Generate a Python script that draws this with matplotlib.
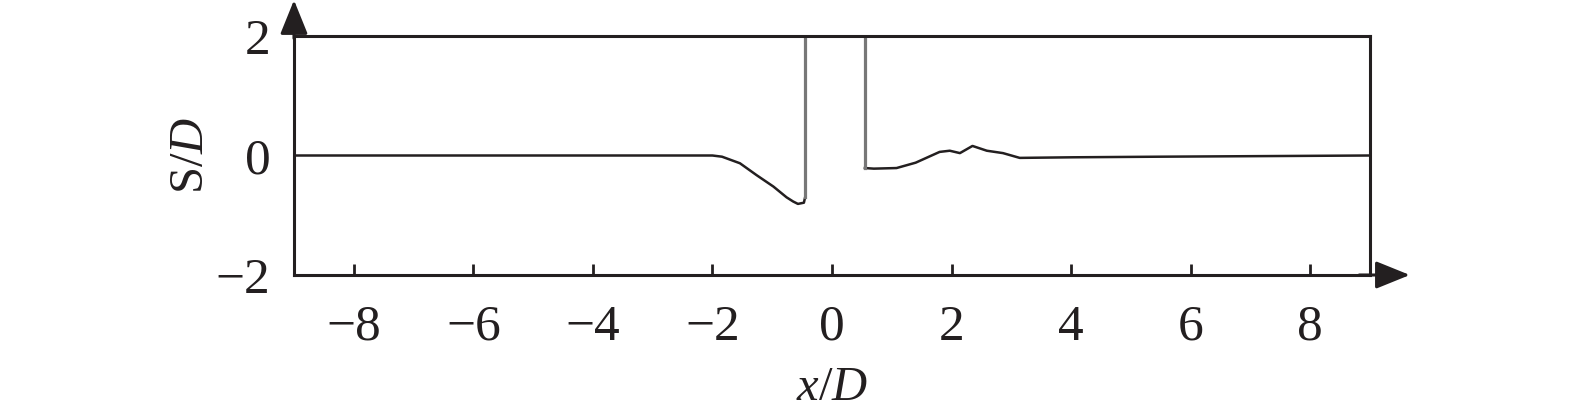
import matplotlib.pyplot as plt
import numpy as np

plt.rcParams['font.family'] = ['Liberation Serif', 'DejaVu Serif']
plt.rcParams['mathtext.fontset'] = 'custom'
plt.rcParams['mathtext.rm'] = 'Liberation Serif'
plt.rcParams['mathtext.it'] = 'Liberation Serif:italic'

# upstream side of the scour profile (x/D, S/D)
x_up = [-9.0, -2.0, -1.84, -1.54, -1.26, -0.98, -0.76, -0.65, -0.57, -0.47, -0.45]
s_up = [0.0, 0.0, -0.02, -0.13, -0.33, -0.52, -0.70, -0.77, -0.81, -0.79, -0.7]

# downstream side
x_dn = [0.55, 0.7, 1.08, 1.4, 1.8, 1.97, 2.14, 2.35, 2.59, 2.86, 3.14, 4.03, 5.48, 9.0]
s_dn = [-0.21, -0.22, -0.21, -0.12, 0.06, 0.08, 0.04, 0.16, 0.08, 0.04, -0.04, -0.03, -0.02, 0.0]

# pile walls (vertical gray lines)
x_wall_l = [-0.45, -0.45]
s_wall_l = [-0.7, 2.5]
x_wall_r = [0.55, 0.55]
s_wall_r = [2.5, -0.21]

xticks = [-8, -6, -4, -2, 0, 2, 4, 6, 8]
yticks = [-2, 0, 2]

W, H = 1575, 419
fig = plt.figure(figsize=(W / 100, H / 100), dpi=100)
ax = fig.add_axes([294 / W, (H - 275) / H, 1076 / W, 239 / H])

ax.plot(x_up, s_up, color="#231f20", lw=1.8)
ax.plot(x_dn, s_dn, color="#231f20", lw=1.8)
ax.plot(x_wall_l, s_wall_l, color="#777777", lw=2.3)
ax.plot(x_wall_r, s_wall_r, color="#777777", lw=2.3)

ax.set_xlim(-9, 9)
ax.set_ylim(-2, 2)
ax.set_xticks(xticks)
ax.set_yticks(yticks)
ax.set_xticklabels([f"\u2212{abs(t)}" if t < 0 else str(t) for t in xticks])
ax.set_yticklabels([f"\u2212{abs(t)}" if t < 0 else str(t) for t in yticks])
ax.tick_params(axis="x", direction="in", length=8, width=2, pad=21, labelsize=37,
               colors="#231f20")
ax.tick_params(axis="y", length=0, pad=17, labelsize=37, colors="#231f20")

for sp in ax.spines.values():
    sp.set_linewidth(2.2)
    sp.set_color("#231f20")

fig.text(832 / W, (H - 400) / H, r"$x$/$D$", fontsize=35, ha="center",
         va="baseline", color="#231f20")
fig.text(203 / W, (H - 156) / H, r"S/$D$", fontsize=35, ha="center",
         va="baseline", rotation=90, rotation_mode="anchor", color="#231f20")

# axis arrows
arrow = dict(arrowstyle="-|>,head_length=2.1,head_width=0.85",
             color="#231f20", lw=2.2, shrinkA=0, shrinkB=0)
ax.annotate("", xy=(0, 1.15), xytext=(0, 0.99), xycoords="axes fraction",
            arrowprops=arrow, annotation_clip=False)
ax.annotate("", xy=(1.037, 0), xytext=(0.99, 0), xycoords="axes fraction",
            arrowprops=arrow, annotation_clip=False)

fig.savefig("out.png", dpi=100)
